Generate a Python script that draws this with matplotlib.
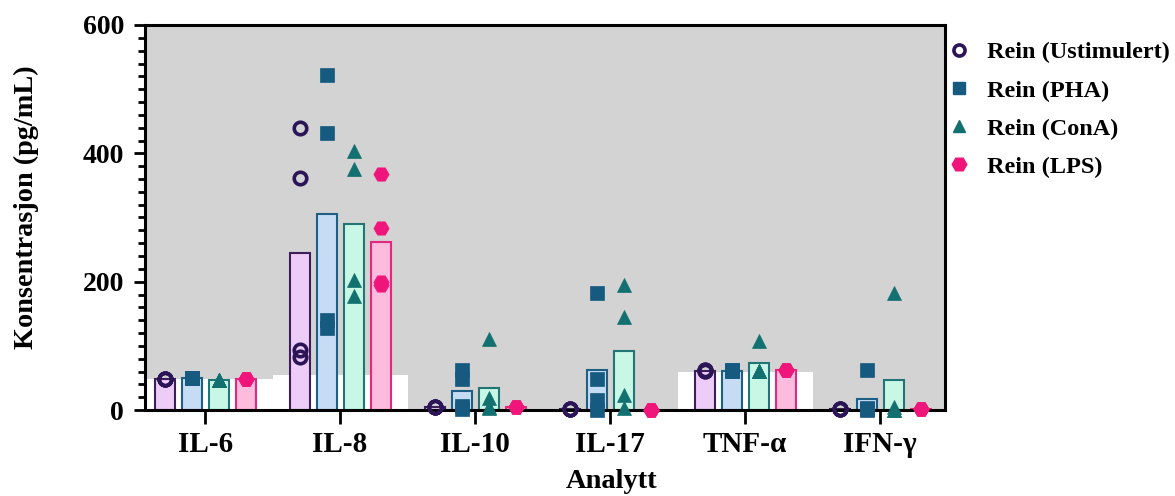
import matplotlib
matplotlib.use("Agg")
import matplotlib.pyplot as plt
from matplotlib.lines import Line2D
from matplotlib.ticker import MultipleLocator
import numpy as np

plt.rcParams['font.family'] = ['Liberation Serif', 'DejaVu Serif']
plt.rcParams['font.weight'] = 'bold'

analytes = ["IL-6", "IL-8", "IL-10", "IL-17", "TNF-α", "IFN-γ"]
series = ["Rein (Ustimulert)", "Rein (PHA)", "Rein (ConA)", "Rein (LPS)"]

# individual measurements (pg/mL), 4 per analyte and series
ustimulert = [[48, 48, 48, 48], [440, 362, 93, 83], [5, 5, 5, 5],
              [2, 2, 2, 2], [62, 62, 61, 61], [1, 1, 1, 1]]
pha = [[50, 50, 50, 50], [522, 431, 141, 128], [62, 48, 6, 2],
       [182, 49, 16, 0], [62, 62, 61, 61], [62, 3, 2, 0]]
cona = [[47, 47, 47, 47], [404, 375, 203, 177], [110, 18, 5, 3],
        [195, 145, 23, 3], [108, 61, 61, 61], [183, 5, 0, 0]]
lps = [[48, 48, 48, 48], [368, 283, 200, 195], [5, 5, 5, 5],
       [0, 0, 0, 0], [62, 62, 62, 62], [1, 1, 1, 1]]

# white background bands behind some groups
background = [48, 55, 2, 0, 59, 0]

point_data = [ustimulert, pha, cona, lps]
markers = ["o", "s", "^", "H"]
marker_sizes = [9, 9.5, 9.5, 11]
marker_colors = ["#2B1557", "#165A80", "#137070", "#F0157A"]
bar_fill = ["#EDCCF7", "#C6DCF5", "#C8F7E6", "#FDBBDD"]
bar_edge = ["#3C1E5A", "#1E5F85", "#237575", "#E3287E"]

fig = plt.figure(figsize=(11.75, 4.96), dpi=100)
ax = fig.add_axes([145/1175, 1-410/496, 800/1175, 385/496])
ax.set_facecolor("#D3D3D3")

x = np.arange(len(analytes))
ax.bar(x, background, width=1.0, color="white", zorder=1)

offsets = [-0.3, -0.1, 0.1, 0.3]
bw = 0.148
for k in range(4):
    vals = [np.mean(v) for v in point_data[k]]
    ax.bar(x + offsets[k], vals, width=bw, color=bar_fill[k],
           edgecolor=bar_edge[k], linewidth=1.5, zorder=2)
    for i in range(len(analytes)):
        pts = point_data[k][i]
        xs = np.full(len(pts), x[i] + offsets[k])
        if markers[k] == "o":
            ax.plot(xs, pts, linestyle="none", marker="o", ms=marker_sizes[k],
                    mfc="none", mec=marker_colors[k], mew=2.6, zorder=3,
                    clip_on=False)
        else:
            ax.plot(xs, pts, linestyle="none", marker=markers[k],
                    ms=marker_sizes[k], mfc=marker_colors[k],
                    mec=marker_colors[k], mew=0.5, zorder=3, clip_on=False)

ax.set_xlim(-0.445, 5.48)
ax.set_ylim(0, 600)
ax.set_xticks(x)
ax.set_xticklabels(analytes, fontsize=21, fontweight="bold")
ax.set_yticks([0, 200, 400, 600])
ax.yaxis.set_minor_locator(MultipleLocator(20))
ax.tick_params(axis="y", labelsize=20, width=2, length=8, pad=7)
ax.tick_params(axis="y", which="minor", width=2, length=5)
ax.tick_params(axis="x", width=2, length=10, pad=5)
for lab in ax.get_yticklabels():
    lab.set_fontweight("bold")
for s in ax.spines.values():
    s.set_linewidth(2.2)

ax.set_ylabel("Konsentrasjon (pg/mL)", fontsize=20.3, fontweight="bold")
ax.yaxis.set_label_coords(-0.132, 0.528)
ax.set_xlabel("Analytt", fontsize=20.5, fontweight="bold")
ax.xaxis.set_label_coords(0.583, -0.152)

handles = []
for k in range(4):
    if markers[k] == "o":
        h = Line2D([], [], linestyle="none", marker="o", ms=8, mfc="none",
                   mec=marker_colors[k], mew=2.6)
    else:
        h = Line2D([], [], linestyle="none", marker=markers[k],
                   ms=marker_sizes[k] - 0.5, mfc=marker_colors[k],
                   mec=marker_colors[k])
    handles.append(h)
leg = ax.legend(handles, series, loc="upper left", bbox_to_anchor=(0.984, 0.995),
                frameon=False, fontsize=17.5, handlelength=1.0, handletextpad=0.65,
                labelspacing=0.66, borderaxespad=0.2)
for t in leg.get_texts():
    t.set_fontweight("bold")

fig.savefig("out.png", dpi=100)
